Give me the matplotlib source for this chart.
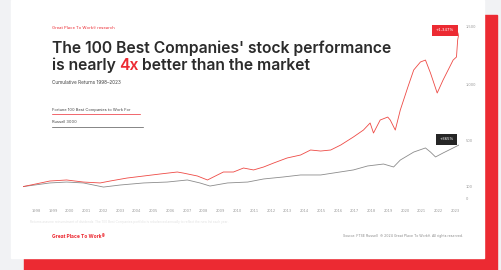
import matplotlib
matplotlib.use('Agg')
import matplotlib.pyplot as plt
from matplotlib.patches import Rectangle

# cumulative growth index (start = 100)
best_years = [1998.0, 1998.6, 1999.6, 2000.6, 2001.6, 2002.6, 2003.2, 2004.2,
              2005.2, 2006.2, 2007.2, 2007.55, 2008.4, 2009.0, 2009.35, 2009.95,
              2010.55, 2011.15, 2011.75, 2012.35, 2012.95, 2013.75, 2014.55,
              2015.15, 2015.75, 2016.35, 2016.95, 2017.7, 2018.3, 2018.7, 2018.9,
              2019.3, 2019.75, 2019.9, 2020.2, 2020.5, 2020.95, 2021.3, 2021.7,
              2022.0, 2022.3, 2022.7, 2023.05, 2023.5, 2023.65, 2023.85, 2023.92,
              2024.0]
best_100 = [100, 118, 149, 158, 140, 132, 149, 175, 193, 211, 228, 219, 193,
            158, 184, 228, 228, 263, 246, 272, 307, 351, 377, 421, 412, 421,
            465, 535, 596, 658, 570, 684, 710, 684, 596, 772, 973, 1123, 1193,
            1210, 1096, 921, 1035, 1166, 1210, 1237, 1386, 1447]

russell_years = [1998.0, 1999.6, 2000.6, 2001.6, 2002.8, 2003.8, 2005.2, 2006.6,
                 2007.8, 2008.55, 2009.15, 2010.2, 2011.4, 2012.35, 2013.5,
                 2014.55, 2015.75, 2016.5, 2017.7, 2018.55, 2019.5, 2020.1,
                 2020.5, 2021.3, 2022.0, 2022.3, 2022.6, 2023.05, 2023.65, 2024.0]
russell_3000 = [100, 132, 140, 132, 96, 114, 132, 140, 158, 132, 105, 132,
                140, 167, 184, 202, 202, 219, 246, 281, 298, 272, 333, 403,
                439, 403, 360, 395, 439, 465]

year_labels = [str(y) for y in range(1998, 2024)]
ytick_values = [0, 100, 500, 1000, 1500]
ytick_labels = ['0', '100', '500', '1,000', '1,500']

RED = '#ec2a32'
INK = '#2b2b2b'
W, H = 502, 270


def fx(x):
    return x / W


def fy(y):
    return 1 - y / H


fig = plt.figure(figsize=(W / 100, H / 100), dpi=100)
fig.patch.set_facecolor('#f1f2f4')

# red block behind the white card
fig.patches.append(Rectangle((fx(24), 0), fx(497) - fx(24), fy(15),
                             transform=fig.transFigure, color=RED, zorder=-3))
fig.patches.append(Rectangle((fx(11), fy(258)), fx(484) - fx(11), 1 - fy(258),
                             transform=fig.transFigure, color='white', zorder=-2))

ax = fig.add_axes([fx(23), fy(198), fx(459) - fx(23), fy(27) - fy(198)])
ax.patch.set_alpha(0)
for s in ax.spines.values():
    s.set_visible(False)

ax.plot(russell_years, russell_3000, color='#8c8c8c', lw=0.6)
ax.plot(best_years, best_100, color='#ee4a45', lw=0.6)

ax.set_xlim(1998, 2024)
ax.set_ylim(0, 1500)
ax.set_xticks([y + 0.78 for y in range(1998, 2024)])
ax.set_xticklabels(year_labels)
ax.tick_params(axis='x', length=0, pad=8, labelsize=2.6, labelcolor='#9a9a9a')
ax.set_yticks(ytick_values)
ax.set_yticklabels(ytick_labels)
ax.yaxis.tick_right()
ax.tick_params(axis='y', length=0, pad=5, labelsize=2.6, labelcolor='#9a9a9a')

# end labels
ax.annotate('+1,347%', (best_years[-1], best_100[-1]), xytext=(-10, 2),
            textcoords='offset points', ha='center', va='center',
            fontsize=2.8, color='white',
            bbox=dict(boxstyle='square,pad=0.9', fc=RED, ec='none'))
ax.annotate('+365%', (russell_years[-1], russell_3000[-1]), xytext=(-9, 4),
            textcoords='offset points', ha='center', va='center',
            fontsize=2.8, color='white',
            bbox=dict(boxstyle='square,pad=0.9', fc='#262626', ec='none'))

font = 'Inter'
TS = 11.3
fig.text(fx(52), fy(28), 'Great Place To Work\u00ae research', fontsize=3,
         color=RED, va='center', family=font)
fig.text(fx(52), fy(48), "The 100 Best Companies' stock performance",
         fontsize=TS, color=INK, va='center', family=font,
         fontweight='semibold')

# second title line with the red "4x"
fig.canvas.draw()
r = fig.canvas.get_renderer()
x0 = fx(52)
for part, col in [('is nearly', INK), ('4x', RED), ('better than the market', INK)]:
    t = fig.text(x0, fy(65), part, fontsize=TS, color=col, va='center',
                 family=font, fontweight='semibold')
    bb = t.get_window_extent(renderer=r)
    x0 += (bb.width + 3.6) / W

fig.text(fx(52), fy(83), 'Cumulative Returns 1998\u20132023', fontsize=3.4,
         color='#444444', va='center', family=font)

# legend
fig.text(fx(52), fy(110), 'Fortune 100 Best Companies to Work For',
         fontsize=2.9, color='#444444', va='center', family=font)
fig.lines.append(plt.Line2D([fx(52), fx(140)], [fy(114), fy(114)],
                            transform=fig.transFigure, color=RED, lw=0.5))
fig.text(fx(52), fy(122), 'Russell 3000', fontsize=2.9, color='#444444',
         va='center', family=font)
fig.lines.append(plt.Line2D([fx(52), fx(143)], [fy(127), fy(127)],
                            transform=fig.transFigure, color='#555555', lw=0.5))

fig.text(fx(30), fy(222), 'Returns assume reinvestment of dividends. '
         'The 100 Best Companies portfolio is rebalanced annually to reflect '
         'the new list each year.', fontsize=2.3, color='#e2e2e2',
         va='center', family=font)

# footer
fig.text(fx(52), fy(237), 'Great Place To Work\u00ae', fontsize=3.6,
         color=RED, va='center', family=font, fontweight='bold')
fig.text(fx(343), fy(236), 'Source: FTSE Russell', fontsize=2.5,
         color='#8a8a8a', va='center', family=font)
fig.text(fx(463), fy(236), '\u00a9 2024 Great Place To Work\u00ae. All rights reserved.',
         fontsize=2.5, color='#8a8a8a', va='center', ha='right', family=font)

fig.savefig('out.png', dpi=100, facecolor=fig.get_facecolor())
